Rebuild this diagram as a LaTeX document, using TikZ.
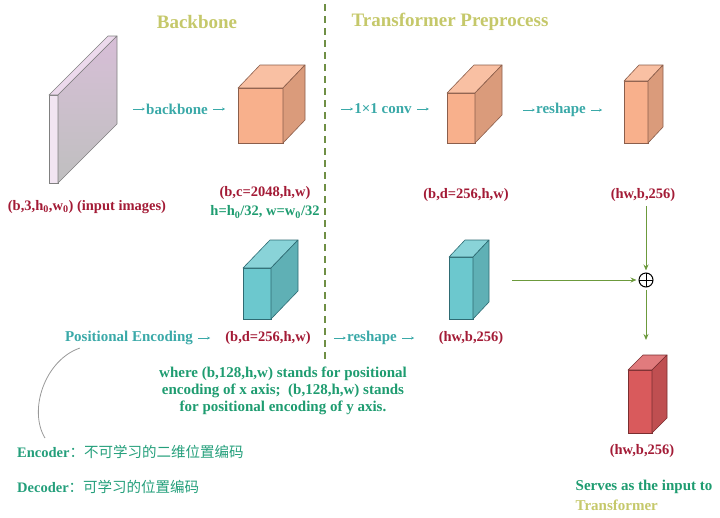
\documentclass[tikz,border=0pt]{standalone}
\usepackage{fontspec}
\setmainfont{Liberation Serif}
\newfontfamily\cjk{Noto Sans CJK SC}
\usetikzlibrary{arrows.meta}

\definecolor{titlecol}{HTML}{C5C86A}
\definecolor{opcol}{HTML}{3AA9A8}
\definecolor{dimcol}{HTML}{A31B36}
\definecolor{notecol}{HTML}{1E9C70}
\definecolor{flowcol}{HTML}{6C9A3C}
\definecolor{sepcol}{HTML}{6F8F45}
\definecolor{orangefront}{HTML}{F8B08C}
\definecolor{orangeedge}{HTML}{8B5E4B}
\definecolor{tealfront}{HTML}{6CC8CE}
\definecolor{tealedge}{HTML}{2E6B73}
\definecolor{redfront}{HTML}{D95A5C}
\definecolor{rededge}{HTML}{7A2E30}

\tikzset{
  title/.style={text=titlecol, font=\bfseries\fontsize{19}{21}\selectfont},
  oplabel/.style={text=opcol, font=\bfseries\fontsize{15}{17}\selectfont, inner sep=1pt},
  dimlabel/.style={text=dimcol, font=\bfseries\fontsize{14.5}{17}\selectfont, inner sep=1pt},
  note/.style={text=notecol, font=\bfseries\fontsize{15}{17}\selectfont, align=center, inner sep=1pt},
  cnlabel/.style={text=notecol!80!opcol, font=\bfseries\fontsize{14.5}{17}\selectfont, inner sep=1pt, anchor=west},
  cubeface/.style={rectangle, inner sep=0pt, outer sep=0pt, line width=0.6pt},
  opflow/.style={draw=opcol, -{Stealth[length=3pt,width=3pt]}, line width=0.6pt},
  flow/.style={draw=flowcol, -{Stealth[length=6pt,width=5pt]}, line width=1pt}
}

% name, centre of front face, width, height, depth x, depth y, fill, edge
\newcommand{\cuboid}[8]{%
  \node[cubeface, minimum width=#3pt, minimum height=#4pt, fill=#7, draw=#8] (#1) at (#2) {};
  \filldraw[fill=#7!80!white, draw=#8, line width=0.6pt, line join=round]
    (#1.north west) -- ++(#5,-#6) -- ++(#3,0) -- (#1.north east) -- cycle;
  \filldraw[fill=#7!88!black, draw=#8, line width=0.6pt, line join=round]
    (#1.north east) -- ++(#5,-#6) -- ++(0,#4) -- (#1.south east) -- cycle;
}

\begin{document}
\begin{tikzpicture}[x=1pt,y=-1pt]
  \useasboundingbox (0,0) rectangle (720,517);

  % section titles and separator
  \node[title] (t1) at (197,22) {Backbone};
  \node[title] (t2) at (450,22) {Transformer Preprocess};
  \coordinate (sep1) at (325,4);
  \coordinate (sep2) at (325,362);
  \draw[sepcol, line width=1.5pt, dash pattern=on 7pt off 5pt] (sep1) -- (sep2);

  % input image
  \node[cubeface, minimum width=9pt, minimum height=88pt, fill=white!90!violet, draw=gray] (img) at (53.5,139) {};
  \filldraw[fill=white!85!violet, draw=gray, line width=0.6pt, line join=round]
    (img.north west) -- ++(59,-59) -- ++(9,0) -- (img.north east) -- cycle;
  \shadedraw[top color=violet!22!white!88!gray, bottom color=gray!50, draw=gray, line width=0.6pt, line join=round]
    (img.north east) -- ++(59,-59) -- ++(0,88) -- (img.south east) -- cycle;
  \node[dimlabel] (0) at (87,207) {(b,3,h\textsubscript{0},w\textsubscript{0}) (input images)};

  % backbone
  \node[oplabel] (op1) at (177,109) {backbone};
  \draw[opflow] ([xshift=-12pt]op1.west) -- (op1.west);
  \draw[opflow] ([xshift=4pt]op1.east) -- ([xshift=16pt]op1.east);
  \cuboid{c1}{260.5,115.5}{45}{55}{22}{23}{orangefront}{orangeedge}
  \node[dimlabel] (1) at (265,193) {(b,c=2048,h,w)};
  \node[dimlabel, text=notecol] (2) at (265,212) {h=h\textsubscript{0}/32, w=w\textsubscript{0}/32};

  % 1x1 conv
  \node[oplabel] (op2) at (383,109) {1×1 conv};
  \draw[opflow] ([xshift=-12pt]op2.west) -- (op2.west);
  \draw[opflow] ([xshift=4pt]op2.east) -- ([xshift=16pt]op2.east);
  \cuboid{c2}{461,118}{28}{50}{27}{28}{orangefront}{orangeedge}
  \node[dimlabel] (3) at (466,195) {(b,d=256,h,w)};

  % reshape
  \node[oplabel] (op3) at (561,110) {reshape};
  \draw[opflow] ([xshift=-12pt]op3.west) -- (op3.west);
  \draw[opflow] ([xshift=4pt]op3.east) -- ([xshift=15pt]op3.east);
  \cuboid{c3}{636,112}{24}{62}{15}{16}{orangefront}{orangeedge}
  \node[dimlabel] (4) at (643,195) {(hw,b,256)};

  % positional encoding
  \node[oplabel] (op4) at (129,338) {Positional Encoding};
  \draw[opflow] ([xshift=4pt]op4.east) -- ([xshift=16pt]op4.east);
  \cuboid{c4}{257,293.5}{28}{51}{27}{28}{tealfront}{tealedge}
  \node[dimlabel] (5) at (268,338) {(b,d=256,h,w)};

  \node[oplabel] (op5) at (372,338) {reshape};
  \draw[opflow] ([xshift=-12pt]op5.west) -- (op5.west);
  \draw[opflow] ([xshift=4pt]op5.east) -- ([xshift=16pt]op5.east);
  \cuboid{c5}{461,288}{24}{62}{16}{17}{tealfront}{tealedge}
  \node[dimlabel] (6) at (471,338) {(hw,b,256)};

  \node[note] (n1) at (283,391) {where (b,128,h,w) stands for positional\\
    encoding of x axis;\ \ (b,128,h,w) stands\\ for positional encoding of y axis.};

  % sum
  \cuboid{c6}{640,401.5}{24}{63}{15}{15}{redfront}{rededge}
  \node[circle, draw, line width=1pt, minimum size=14pt, inner sep=0pt,
    path picture={\draw[line width=1pt] (path picture bounding box.north) -- (path picture bounding box.south)
      (path picture bounding box.west) -- (path picture bounding box.east);}] (sum) at (646,280) {};
  \coordinate (pe) at (512,280);
  \path (4.south) ++(0,3) coordinate (out4);
  \path (c6.north) ++(0,-30) coordinate (in6);
  \draw[flow] (sum |- out4) -- ([yshift=2pt]sum.north);
  \draw[flow] (pe) -- ([xshift=-2pt]sum.west);
  \draw[flow] ([yshift=-2pt]sum.south) -- (sum |- in6);

  \node[dimlabel] (7) at (642,451) {(hw,b,256)};
  \node[note] (n2) at (644,487) {Serves as the input to};
  \node[note, text=titlecol, anchor=west] (n3) at (n2.west |- 0,505) {Transformer};

  % encoder / decoder notes
  \node[cnlabel] (enc) at (16,452) {Encoder{\cjk\mdseries ：不可学习的二维位置编码}};
  \node[cnlabel] (dec) at (16,487) {Decoder{\cjk\mdseries ：可学习的位置编码}};
  \draw[gray!80, line width=0.8pt] ([xshift=16pt,yshift=-2pt]op4.south west)
    .. controls (45,360) and (28,410) .. ([xshift=29pt,yshift=6pt]enc.north west);
\end{tikzpicture}
\end{document}
